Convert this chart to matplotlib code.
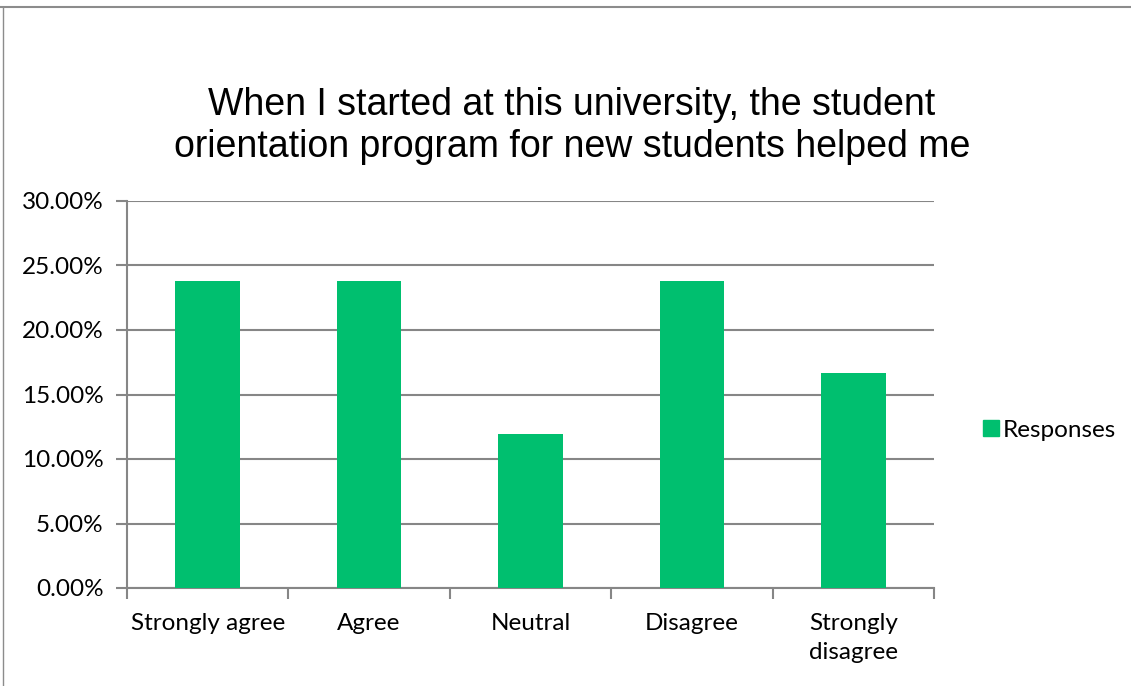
import matplotlib
matplotlib.use("Agg")
import matplotlib.pyplot as plt
from matplotlib.ticker import FuncFormatter, MultipleLocator
from matplotlib.lines import Line2D
import numpy as np

categories = ["Strongly agree", "Agree", "Neutral", "Disagree", "Strongly\ndisagree"]
responses = [0.2381, 0.2381, 0.1190, 0.2381, 0.1667]
series_name = "Responses"
title = "When I started at this university, the student\norientation program for new students helped me"

bar_color = "#00BF6F"
grid_color = "#868686"
label_font = ["Lato", "DejaVu Sans"]

fig = plt.figure(figsize=(11.31, 6.86), dpi=100)
ax = fig.add_axes([127/1131, 1-588/686, (934-127)/1131, (588-201)/686])

x = np.arange(len(categories))
ax.bar(x, responses, width=0.4, color=bar_color, zorder=3, label=series_name)

ax.set_xlim(-0.5, len(categories) - 0.5)
ax.set_ylim(0, 0.30)
ax.yaxis.set_major_locator(MultipleLocator(0.05))
ax.yaxis.set_major_formatter(FuncFormatter(lambda v, p: f"{v*100:.2f}%"))
ax.grid(axis="y", color=grid_color, linewidth=1.5, zorder=0)

ax.set_xticks(np.arange(len(categories) + 1) - 0.5)
ax.set_xticklabels([])
ax.set_xticks(x, minor=True)
ax.set_xticklabels(categories, minor=True, fontsize=17.5, family=label_font, linespacing=1.45)
ax.tick_params(axis="x", which="minor", length=0, pad=18)
ax.tick_params(axis="x", which="major", length=8, width=1.5, color=grid_color, direction="out")
ax.tick_params(axis="y", length=8, width=1.5, color=grid_color, direction="out", pad=9)
for lbl in ax.get_yticklabels():
    lbl.set_fontsize(17.5)
    lbl.set_family(label_font)

for s in ["top", "right"]:
    ax.spines[s].set_visible(False)
for s in ["left", "bottom"]:
    ax.spines[s].set_color(grid_color)
    ax.spines[s].set_linewidth(1.5)

fig.text(572/1131, 1-126/686, title, ha="center", va="center", fontsize=27,
         family=["Liberation Sans", "DejaVu Sans"], linespacing=1.2)

handle = Line2D([], [], marker="s", linestyle="none", markersize=11,
                markerfacecolor=bar_color, markeredgecolor=bar_color)
fig.legend([handle], [series_name], loc="center left",
           bbox_to_anchor=(970/1131, 1-430/686), frameon=False,
           prop={"family": label_font, "size": 17.5}, handletextpad=0.05,
           handlelength=0.9, borderaxespad=0)

# outer chart border (top and left visible)
fig.add_artist(Line2D([0, 1], [1-7/686, 1-7/686], transform=fig.transFigure,
                      color="#8C8C8C", linewidth=1.5))
fig.add_artist(Line2D([3/1131, 3/1131], [0, 1-7/686], transform=fig.transFigure,
                      color="#8C8C8C", linewidth=1.0))

fig.savefig("out.png", dpi=100, facecolor="white")
